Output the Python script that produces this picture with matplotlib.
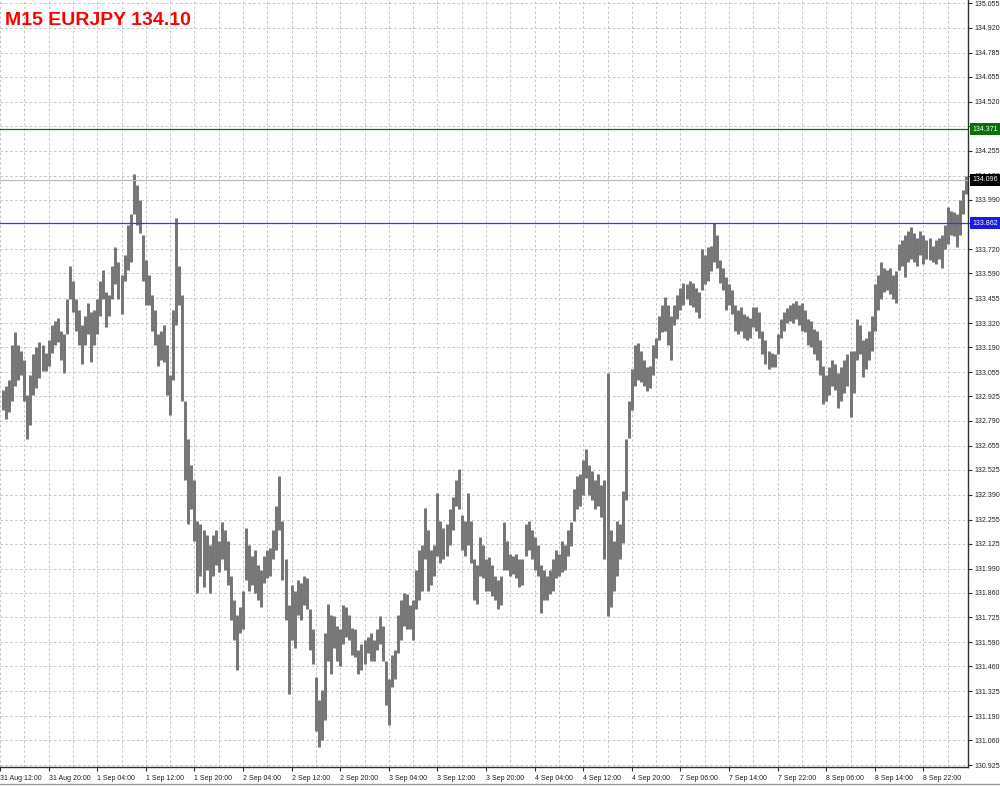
import matplotlib
matplotlib.use("Agg")
import matplotlib.pyplot as plt
import matplotlib.transforms as mtransforms
from matplotlib.lines import Line2D
import numpy as np

title = "M15 EURJPY 134.10"

high = [
    132.96, 132.98, 133.01, 133.20, 133.27, 133.20, 133.17, 133.12, 132.93, 133.04,
    133.15, 133.19, 133.22, 133.20, 133.16, 133.23, 133.31, 133.33, 133.35, 133.28,
    133.26, 133.45, 133.63, 133.55, 133.45, 133.39, 133.31, 133.36, 133.43, 133.38,
    133.39, 133.45, 133.55, 133.61, 133.49, 133.47, 133.63, 133.73, 133.65, 133.58,
    133.69, 133.85, 133.91, 134.13, 134.07, 133.99, 133.80, 133.66, 133.58, 133.47,
    133.39, 133.26, 133.28, 133.31, 133.20, 133.04, 133.39, 133.89, 133.63, 133.47,
    132.90, 132.69, 132.55, 132.47, 132.25, 132.23, 132.20, 132.17, 132.12, 132.17,
    132.20, 132.14, 132.24, 132.20, 132.14, 131.95, 131.82, 131.74, 131.78, 131.87,
    132.21, 132.12, 132.06, 132.09, 132.01, 131.98, 132.06, 132.09, 132.10, 132.20,
    132.33, 132.49, 132.25, 132.04, 131.79, 131.90, 131.87, 131.93, 131.91, 131.95,
    131.94, 131.77, 131.66, 131.40, 131.28, 131.33, 131.64, 131.80, 131.74, 131.73,
    131.68, 131.66, 131.79, 131.78, 131.74, 131.67, 131.66, 131.55, 131.58, 131.60,
    131.62, 131.64, 131.60, 131.66, 131.73, 131.68, 131.49, 131.39, 131.52, 131.55,
    131.74, 131.82, 131.86, 131.85, 131.79, 131.82, 131.98, 132.09, 132.12, 132.32,
    132.20, 132.09, 132.12, 132.40, 132.25, 132.21, 132.23, 132.31, 132.38, 132.47,
    132.53, 132.28, 132.25, 132.40, 132.25, 132.04, 132.01, 132.16, 132.12, 132.04,
    132.05, 132.01, 131.95, 131.93, 131.95, 132.24, 132.14, 132.07, 132.06, 132.07,
    132.04, 132.04, 132.23, 132.25, 132.20, 132.16, 132.12, 132.01, 131.98, 131.95,
    131.98, 132.04, 132.09, 132.07, 132.14, 132.12, 132.20, 132.24, 132.42, 132.49,
    132.50, 132.58, 132.64, 132.55, 132.52, 132.47, 132.50, 132.44, 132.47, 133.05,
    132.20, 132.14, 132.25, 132.23, 132.41, 132.69, 132.90, 133.07, 133.20, 133.21,
    133.17, 133.12, 133.08, 133.09, 133.20, 133.24, 133.36, 133.42, 133.46, 133.42,
    133.36, 133.42, 133.47, 133.51, 133.54, 133.53, 133.55, 133.54, 133.51, 133.49,
    133.72, 133.69, 133.73, 133.74, 133.86, 133.80, 133.66, 133.62, 133.57, 133.53,
    133.50, 133.42, 133.39, 133.41, 133.37, 133.36, 133.35, 133.41, 133.41, 133.38,
    133.28, 133.23, 133.17, 133.16, 133.15, 133.26, 133.34, 133.38, 133.40, 133.42,
    133.43, 133.44, 133.42, 133.43, 133.39, 133.34, 133.33, 133.29, 133.28, 133.23,
    133.09, 133.04, 133.08, 133.12, 133.10, 133.05, 133.08, 133.12, 133.15, 133.17,
    133.17, 133.34, 133.31, 133.23, 133.24, 133.28, 133.36, 133.53, 133.58, 133.65,
    133.62, 133.61, 133.62, 133.58, 133.60, 133.75, 133.77, 133.80, 133.82, 133.84,
    133.81, 133.78, 133.82, 133.80, 133.77, 133.78, 133.74, 133.77, 133.78, 133.80,
    133.85, 133.95, 133.93, 133.92, 133.91, 133.99, 134.04, 134.12,
]

low = [
    132.85, 132.80, 132.84, 132.90, 132.98, 133.01, 133.04, 132.90, 132.69, 132.77,
    132.93, 132.97, 133.02, 133.06, 133.06, 133.09, 133.16, 133.20, 133.22, 133.12,
    133.05, 133.26, 133.45, 133.38, 133.28, 133.20, 133.10, 133.20, 133.26, 133.11,
    133.20, 133.26, 133.36, 133.45, 133.30, 133.36, 133.45, 133.53, 133.45, 133.37,
    133.55, 133.61, 133.65, 133.91, 133.85, 133.81, 133.55, 133.42, 133.42, 133.28,
    133.20, 133.09, 133.12, 133.11, 132.93, 132.82, 133.01, 133.31, 133.42, 132.90,
    132.47, 132.23, 132.31, 132.14, 131.86, 131.95, 131.89, 131.98, 131.86, 131.95,
    132.01, 131.97, 132.04, 131.98, 131.90, 131.71, 131.60, 131.44, 131.64, 131.66,
    131.93, 131.87, 131.90, 131.86, 131.82, 131.78, 131.91, 131.94, 131.95, 132.04,
    132.09, 132.20, 131.93, 131.71, 131.31, 131.60, 131.56, 131.74, 131.71, 131.79,
    131.77, 131.55, 131.47, 131.11, 131.02, 131.06, 131.17, 131.49, 131.42, 131.56,
    131.49, 131.46, 131.58, 131.62, 131.60, 131.52, 131.51, 131.42, 131.44, 131.47,
    131.53, 131.49, 131.49, 131.55, 131.58, 131.49, 131.25, 131.14, 131.35, 131.39,
    131.53, 131.60, 131.68, 131.66, 131.66, 131.60, 131.77, 131.82, 131.87, 132.04,
    131.87, 131.90, 131.95, 132.06, 132.02, 132.04, 132.06, 132.12, 132.20, 132.33,
    132.31, 132.09, 132.06, 132.12, 132.02, 131.82, 131.80, 131.95, 131.94, 131.87,
    131.87, 131.84, 131.82, 131.77, 131.79, 131.98, 131.98, 131.95, 131.96, 131.94,
    131.89, 131.90, 132.06, 132.09, 132.04, 131.98, 131.95, 131.75, 131.82, 131.82,
    131.85, 131.87, 131.94, 131.95, 131.97, 131.98, 132.06, 132.11, 132.25, 132.31,
    132.33, 132.39, 132.48, 132.39, 132.36, 132.31, 132.33, 132.27, 132.04, 131.73,
    131.78, 131.87, 131.95, 132.04, 132.13, 132.36, 132.70, 132.85, 132.98, 133.01,
    133.00, 132.98, 132.95, 132.97, 133.04, 133.13, 133.23, 133.27, 133.28, 133.20,
    133.12, 133.31, 133.34, 133.39, 133.42, 133.45, 133.42, 133.41, 133.38, 133.35,
    133.50, 133.53, 133.55, 133.60, 133.65, 133.62, 133.54, 133.50, 133.39, 133.42,
    133.37, 133.28, 133.26, 133.28, 133.24, 133.23, 133.24, 133.30, 133.28, 133.24,
    133.15, 133.10, 133.07, 133.08, 133.08, 133.15, 133.24, 133.28, 133.32, 133.33,
    133.32, 133.34, 133.31, 133.28, 133.27, 133.20, 133.19, 133.15, 133.12, 133.04,
    132.88, 132.90, 132.93, 132.98, 132.96, 132.86, 132.90, 132.94, 132.98, 132.81,
    132.94, 133.12, 133.15, 133.03, 133.07, 133.12, 133.17, 133.28, 133.39, 133.45,
    133.49, 133.50, 133.48, 133.45, 133.43, 133.61, 133.63, 133.57, 133.65, 133.67,
    133.65, 133.63, 133.69, 133.64, 133.67, 133.66, 133.65, 133.64, 133.67, 133.62,
    133.72, 133.75, 133.80, 133.79, 133.73, 133.80, 133.91, 134.02,
]

ytick_labels = [
    "135.055", "134.920", "134.785", "134.655", "134.520", "134.390", "134.255",
    "134.120", "133.990", "133.860", "133.720", "133.590", "133.455", "133.320",
    "133.190", "133.055", "132.925", "132.790", "132.655", "132.525", "132.390",
    "132.255", "132.125", "131.990", "131.860", "131.725", "131.590", "131.460",
    "131.325", "131.190", "131.060", "130.925",
]

xtick_labels = [
    "31 Aug 12:00", "31 Aug 20:00", "1 Sep 04:00", "1 Sep 12:00", "1 Sep 20:00",
    "2 Sep 04:00", "2 Sep 12:00", "2 Sep 20:00", "3 Sep 04:00", "3 Sep 12:00",
    "3 Sep 20:00", "4 Sep 04:00", "4 Sep 12:00", "4 Sep 20:00", "7 Sep 06:00",
    "7 Sep 14:00", "7 Sep 22:00", "8 Sep 06:00", "8 Sep 14:00", "8 Sep 22:00",
]

level_green = 134.371
level_blue = 133.862
bid_price = 134.096

FONT = ["Liberation Sans", "DejaVu Sans"]
plt.rcParams["font.family"] = FONT

W, H = 1000, 786
fig = plt.figure(figsize=(W / 100, H / 100), dpi=100)
fig.patch.set_facecolor("white")
ax = fig.add_axes([0, (H - 767) / H, 968 / W, 767 / H])
ax.set_facecolor("white")

n = len(high)
x = np.arange(n)

ax.set_xlim(-0.33, 317.67)
ax.set_ylim(130.9143, 135.0713)

# grid
grid_kw = dict(color="#c4c4c4", lw=0.7, ls=(0, (2.5, 2.5)), zorder=0)
yt = [float(s) for s in ytick_labels]
for v in yt:
    ax.axhline(v, **grid_kw)
for gx in np.arange(-1, 320, 8):
    ax.axvline(gx, **grid_kw)

# bars
ax.vlines(x, low, high, colors="#747474", linewidth=2.1, zorder=2)

# level lines
ax.axhline(bid_price, color="#b8b8b8", lw=0.8, zorder=3)
ax.axhline(level_green, color="#0a700a", lw=0.9, zorder=3)
ax.axhline(level_blue, color="#3535ff", lw=0.9, zorder=3)

# axes styling
for s in ("top", "left"):
    ax.spines[s].set_visible(False)
for s in ("right", "bottom"):
    ax.spines[s].set_color("#303030")
    ax.spines[s].set_linewidth(1.0)

ax.yaxis.tick_right()
ax.set_yticks(yt)
ax.set_yticklabels(ytick_labels)
ax.tick_params(axis="y", direction="out", length=3, width=0.8, pad=2,
               labelsize=5, colors="#303030", labelcolor="#202020")
# labels fully covered by the price boxes in the reference
for lbl in ax.get_yticklabels():
    if lbl.get_text() in ("134.390", "133.860"):
        lbl.set_visible(False)

xt = [-1 + 16 * k for k in range(len(xtick_labels))]
ax.set_xticks(xt)
ax.set_xticklabels(xtick_labels, ha="left")
ax.tick_params(axis="x", direction="out", length=3, width=0.8, pad=2.5,
               labelsize=5, colors="#303030", labelcolor="#202020")
for lbl in ax.get_xticklabels():
    lbl.set_horizontalalignment("left")

# price boxes on the right axis
trans = mtransforms.blended_transform_factory(fig.transFigure, ax.transData)
for val, txt, fc in ((level_green, "134.371", "#0a700a"),
                     (bid_price, "134.096", "#000000"),
                     (level_blue, "133.862", "#1a1ae6")):
    ax.text(0.9725, val, txt, transform=trans, ha="left", va="center",
            color="white", fontsize=5, clip_on=False, zorder=10,
            bbox=dict(boxstyle="square,pad=0.35", fc=fc, ec="none"))

# title
fig.text(5 / W, 1 - 25 / H, title, color="#ff0000", fontsize=14,
         fontweight="bold", ha="left", va="baseline")

# bottom window border
fig.add_artist(Line2D([0, 1], [1 - 784 / H, 1 - 784 / H], transform=fig.transFigure,
                      color="#9a9a9a", lw=1.0))

fig.savefig("out.png", dpi=100, facecolor="white")
